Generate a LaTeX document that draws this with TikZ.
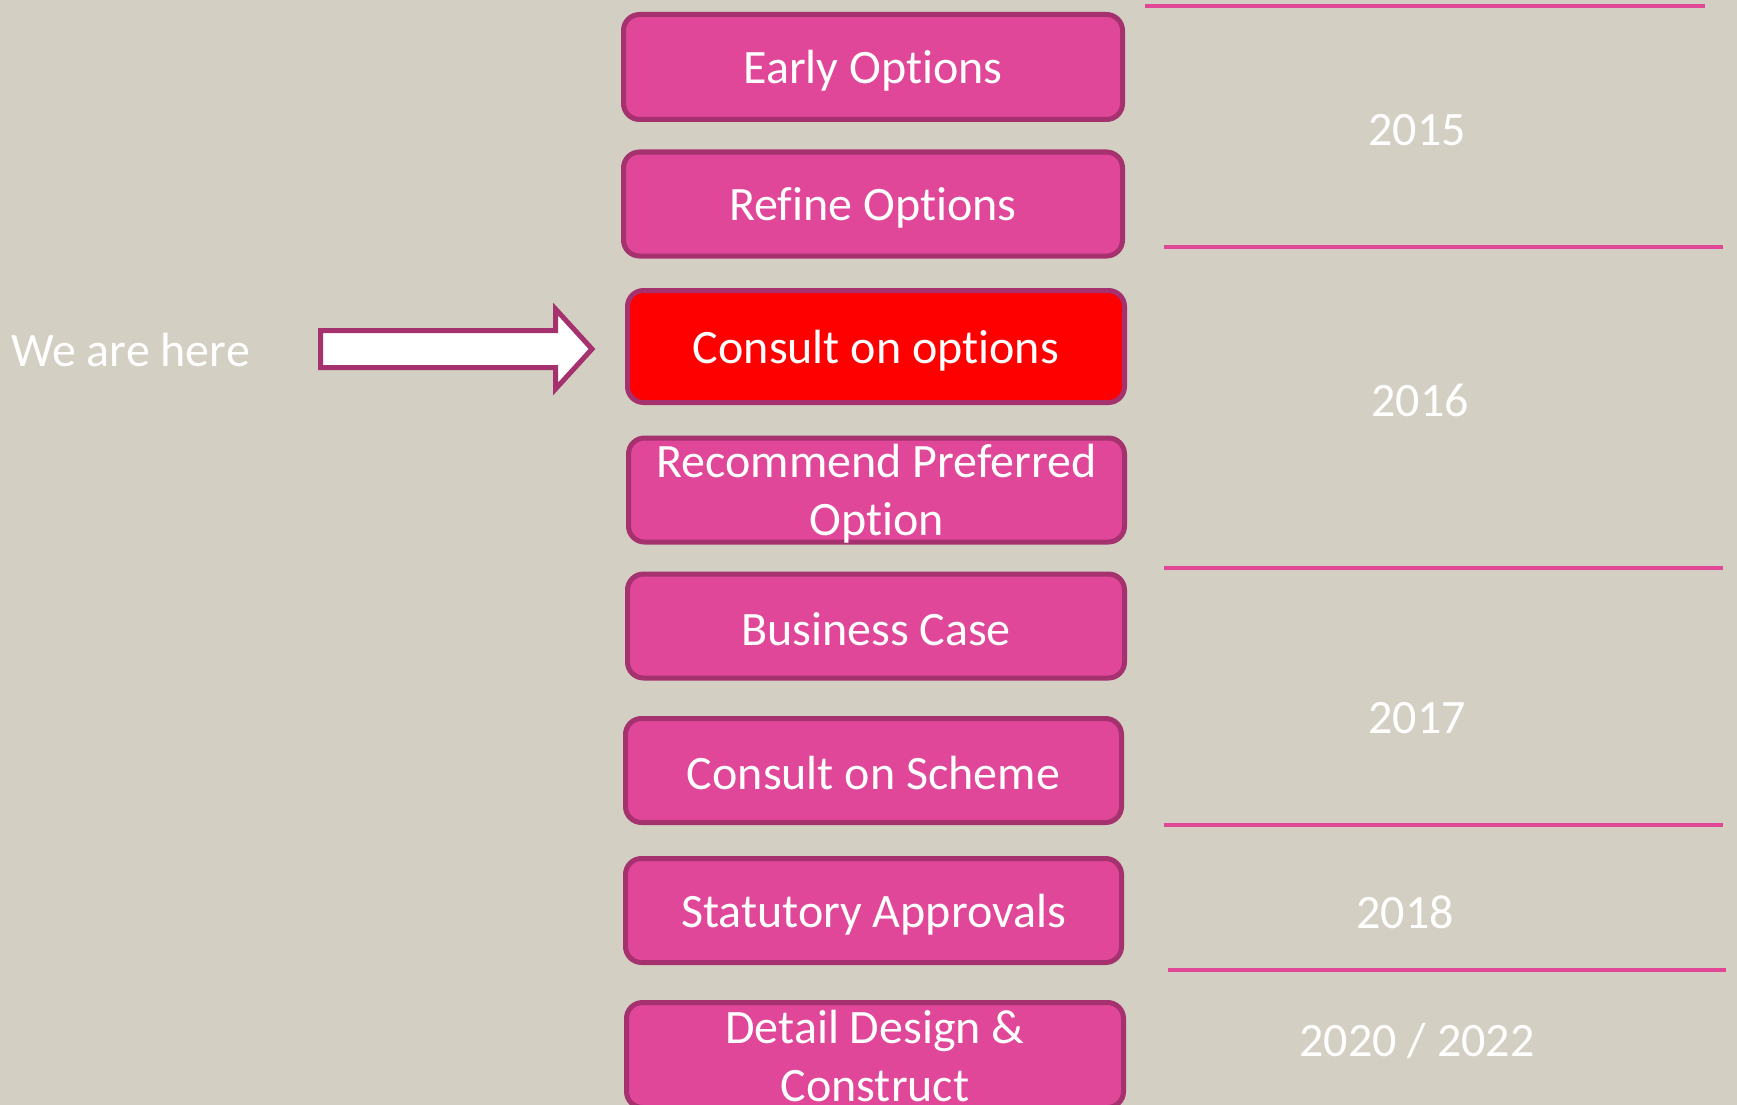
\documentclass[tikz,border=0pt]{standalone}
\usepackage{fontspec}
\setmainfont{Carlito}[Ligatures=CommonOff]
\definecolor{bgc}{RGB}{211,207,194}
\definecolor{pinkfill}{RGB}{224,71,153}
\definecolor{pinkborder}{RGB}{165,49,111}
\definecolor{pinkline}{RGB}{225,71,150}
\begin{document}
\begin{tikzpicture}[x=1pt,y=-1pt,
  stagebox/.style={draw=pinkborder, line width=5pt, fill=pinkfill, rounded corners=16pt,
    inner sep=0pt, minimum width=499pt, minimum height=104pt},
  stagetext/.style={text=white, font=\fontsize{48}{58}\selectfont, align=center, inner sep=0pt},
  yearlbl/.style={text=white, font=\fontsize{48}{58}\selectfont, inner sep=0pt},
  sepline/.style={draw=pinkline, line width=3.5pt}]
\fill[bgc] (0,0) rectangle (1737,1105);
\useasboundingbox (0,0) rectangle (1737,1105);
% stage boxes
\node[stagebox, minimum height=105pt] (s1) at (873,67) {};
\node[stagebox] (s2) at (873,204) {};
\node[stagebox, fill=red, minimum height=112pt, minimum width=497pt] (s3) at (876,346.5) {};
\node[stagebox, minimum width=496pt] (s4) at (876.5,490) {};
\node[stagebox, minimum width=497pt] (s5) at (876,626) {};
\node[stagebox, minimum width=496pt] (s6) at (873.5,770.5) {};
\node[stagebox, minimum width=496pt] (s7) at (873.5,910.5) {};
\node[stagebox, minimum width=497pt, minimum height=105pt] (s8) at (875,1055) {};
% stage texts
\node[stagetext] (t1) at ([yshift=-4pt]s1.center) {Early Options};
\node[stagetext] (t2) at ([yshift=-4pt]s2.center) {Refine Options};
\node[stagetext] (t3) at ([yshift=-4pt]s3.center) {Consult on options};
\node[stagetext] (t4) at ([yshift=-4pt]s4.center) {Recommend Preferred\\Option};
\node[stagetext] (t5) at ([yshift=-3pt]s5.center) {Business Case};
\node[stagetext] (t6) at ([yshift=-3pt]s6.center) {Consult on Scheme};
\node[stagetext] (t7) at ([yshift=-4pt]s7.center) {Statutory Approvals};
\node[stagetext] (t8) at ([yshift=-1pt]s8.center) {Detail Design \&\\Construct};
% year separators
\draw[sepline] (1145,6) -- (1705,6);
\draw[sepline] (1164,247) -- (1723,247);
\draw[sepline] (1164,568) -- (1723,568);
\draw[sepline] (1164,825) -- (1723,825);
\draw[sepline] (1168,970) -- (1726,970);
% years
\node[yearlbl] (y1) at (1417,130) {2015};
\node[yearlbl] (y2) at (1420,400) {2016};
\node[yearlbl] (y3) at (1417,718) {2017};
\node[yearlbl] (y4) at (1405,912) {2018};
\node[yearlbl] (y5) at (1417,1041) {2020 / 2022};
% we are here
\node[yearlbl, anchor=west] (here) at (11,350) {We are here};
\draw[draw=pinkborder, line width=5pt, fill=white, line join=miter]
  (320.5,330.5) -- (555.5,330.5) -- (555.5,309) -- (592,349) -- (555.5,389) -- (555.5,367.5) -- (320.5,367.5) -- cycle;
\end{tikzpicture}
\end{document}
